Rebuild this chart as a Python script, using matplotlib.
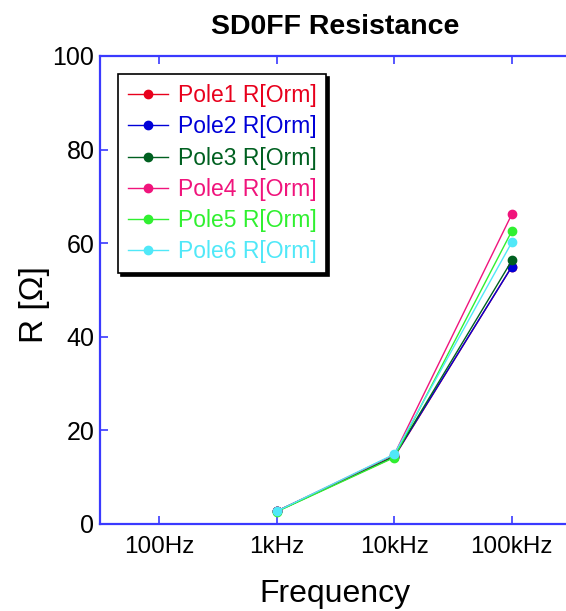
import matplotlib
matplotlib.use("Agg")
import matplotlib.pyplot as plt

plt.rcParams['font.family'] = ['Liberation Sans', 'DejaVu Sans']

frequencies = ["100Hz", "1kHz", "10kHz", "100kHz"]
measured_idx = [1, 2, 3]  # points measured at 1kHz, 10kHz, 100kHz

pole1 = [2.7, 14.3, 55.0]
pole2 = [2.7, 14.4, 55.0]
pole3 = [2.7, 14.5, 56.3]
pole4 = [2.7, 14.8, 66.2]
pole5 = [2.6, 14.2, 62.6]
pole6 = [2.7, 14.9, 60.2]

labels = ["Pole1 R[Orm]", "Pole2 R[Orm]", "Pole3 R[Orm]",
          "Pole4 R[Orm]", "Pole5 R[Orm]", "Pole6 R[Orm]"]
colors = ["#e8001c", "#0000d8", "#006020", "#f0147c", "#30f030", "#50e8f8"]
series = [pole1, pole2, pole3, pole4, pole5, pole6]

fig = plt.figure(figsize=(5.66, 6.11), dpi=100)
ax = fig.add_axes([0.1767, 0.1424, 0.8316, 0.766])

for vals, lab, col in zip(series, labels, colors):
    ax.plot(measured_idx, vals, color=col, lw=1.0, marker='o', ms=6,
            label=lab)

ax.set_xlim(-0.5, 3.5)
ax.set_ylim(0, 100)
ax.set_xticks(range(len(frequencies)))
ax.set_xticklabels(frequencies)
ax.set_yticks([0, 20, 40, 60, 80, 100])

frame_col = "#3a3aff"
for sp in ax.spines.values():
    sp.set_color(frame_col)
    sp.set_linewidth(1.6)
ax.tick_params(axis='x', direction='in', length=6, width=1.2, color=frame_col,
               top=True, labelsize=17.5, pad=9)
ax.tick_params(axis='y', direction='in', length=6, width=1.2, color=frame_col,
               right=False, labelsize=18, pad=4)

ax.set_xlabel("Frequency", fontsize=23, labelpad=15)
ax.set_ylabel("R [Ω]", fontsize=24)
ax.yaxis.set_label_coords(-0.106, 0.469)
ax.set_title("SD0FF Resistance", fontsize=20.5, fontweight='bold', pad=16)

leg = ax.legend(loc='upper left', bbox_to_anchor=(0.0385, 0.961), fontsize=16.5,
                frameon=True, fancybox=False, shadow={'color': 'black', 'alpha': 1.0},
                edgecolor='black', handlelength=1.75, handletextpad=0.42,
                labelspacing=0.36, borderpad=0.43, borderaxespad=0)
leg.get_frame().set_linewidth(1.2)
for text, col in zip(leg.get_texts(), colors):
    text.set_color(col)

fig.savefig("out.png", dpi=100)
